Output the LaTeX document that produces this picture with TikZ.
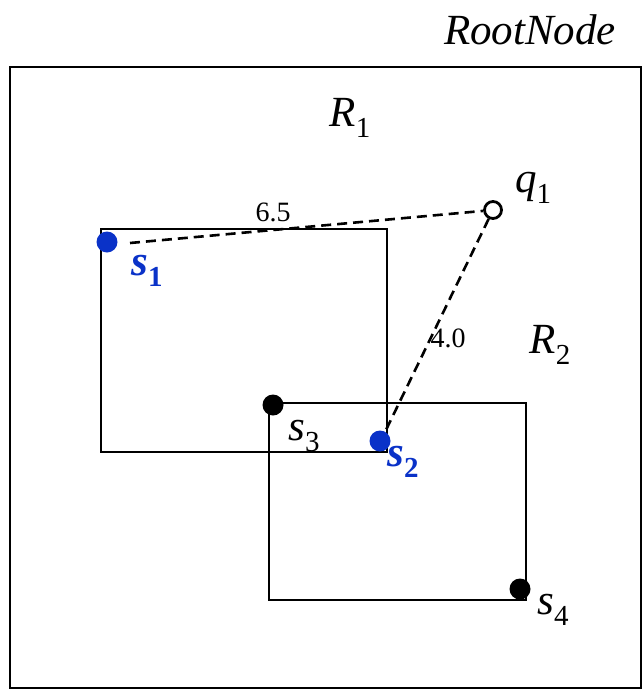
\documentclass[tikz,border=0pt]{standalone}
\usepackage{fontspec}
\setmainfont{Liberation Serif}
\definecolor{ptblue}{RGB}{10,50,200}
\newcommand{\symsub}[2]{\textit{#1}\raisebox{-0.27em}{\fontsize{29}{31}\selectfont\upshape #2}}
\begin{document}
\begin{tikzpicture}[x=1pt,y=-1pt,
  box/.style={draw=black,line width=2.4pt},
  dist/.style={draw=black,line width=2.6pt,dash pattern=on 10pt off 6pt},
  blackpt/.style={circle,fill=black,inner sep=0pt,minimum size=21pt},
  bluept/.style={circle,fill=ptblue,inner sep=0pt,minimum size=21pt},
  query/.style={circle,draw=black,fill=white,line width=2.8pt,inner sep=0pt,minimum size=17pt},
  lbl/.style={font=\fontsize{43}{45}\selectfont\itshape,inner sep=0pt},
  blbl/.style={font=\fontsize{43}{45}\selectfont\bfseries\itshape,text=ptblue,inner sep=0pt},
  num/.style={font=\fontsize{28}{30}\selectfont,inner sep=0pt}]
\useasboundingbox (0,0) rectangle (643,689);
\draw[box] (10,67) rectangle (641,688);
\draw[box] (101,229) rectangle (387,452);
\draw[box] (269,403) rectangle (526,600);
\node[bluept] (s1) at (107,242) {};
\node[bluept] (s2) at (380,441) {};
\node[blackpt] (s3) at (273,405) {};
\node[blackpt] (s4) at (520,589) {};
\node[query] (q1) at (493,210) {};
\coordinate (a1) at (130,243);
\coordinate (a2) at (385,432);
\draw[dist] (a1) -- (q1);
\draw[dist] (q1) -- (a2);
\node[lbl] (root) at (530,30) {RootNode};
\node[lbl] (r1) at (350,118) {\symsub{R}{1}};
\node[lbl] (r2) at (550,345) {\symsub{R}{2}};
\node[lbl] (q1l) at (533,188) {\symsub{q}{1}};
\node[lbl] (s3l) at (304,436) {\symsub{s}{3}};
\node[lbl] (s4l) at (553,610) {\symsub{s}{4}};
\node[blbl] (s1l) at (147,271) {\symsub{s}{\bfseries 1}};
\node[blbl] (s2l) at (403,462) {\symsub{s}{\bfseries 2}};
\node[num] (d1) at (273,212) {6.5};
\node[num] (d2) at (448,338) {4.0};
\end{tikzpicture}
\end{document}
